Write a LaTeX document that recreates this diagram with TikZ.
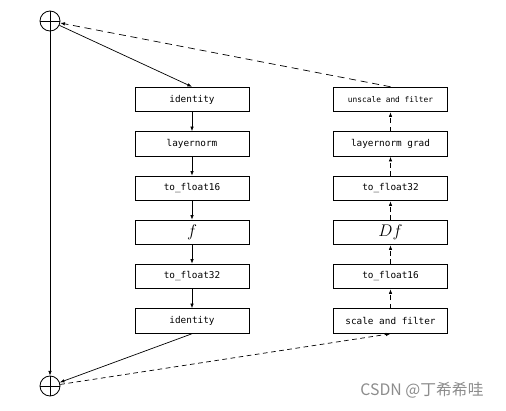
\documentclass[tikz,border=0pt]{standalone}
\usepackage{fontspec}
\setmonofont{DejaVu Sans Mono}
\newfontfamily\cjkfont{Noto Sans CJK SC}
\usepackage{tikz}
\usetikzlibrary{positioning}
\usetikzlibrary{arrows.meta,calc}
\tikzstyle{block}=[rectangle,draw,line width=0.7pt,minimum width=3.42cm,minimum height=0.74cm,inner sep=0pt,font=\ttfamily\fontsize{8}{9}\selectfont]
\tikzstyle{plusnode}=[circle,draw,line width=0.7pt,minimum size=0.6cm,inner sep=0pt,path picture={\draw[line width=0.7pt] (path picture bounding box.north) -- (path picture bounding box.south) (path picture bounding box.west) -- (path picture bounding box.east);}]
\tikzstyle{edge} = [draw,line width=0.6pt,->]
\tikzstyle{backedge} = [draw,line width=0.6pt,->,dash pattern=on 4pt off 3pt]

\begin{document}
\begin{tikzpicture}[x=0.03cm,y=-0.03cm,>={Latex[length=4pt,width=3pt]}]

  \useasboundingbox (0,0) rectangle (506,410);

  \def\xl{192};
  \def\xr{390.5};

   \node[plusnode] (top) at (50,21) {};
   \node[plusnode] (bot) at (50,386) {};

   \foreach \y/\name/\label in {99.5/id1/identity, 144/ln/layernorm, 188.5/f16/to\_float16, 232.5/fwd/{\rmfamily\Large$f$}, 276.5/f32/to\_float32, 321/id2/identity}
          \node[block] (\name) at (\xl, \y) {\label};

   \foreach \y/\name/\label in {99.5/us/{\fontsize{6.7}{8}\selectfont unscale and filter}, 144/lng/layernorm grad, 188.5/g32/to\_float32, 232.5/df/{\rmfamily\Large$Df$}, 276.5/g16/to\_float16, 321/sc/scale and filter}
          \node[block] (\name) at (\xr, \y) {\label};

  \foreach \source/ \dest in {top/id1.north, id1/ln, ln/f16, f16/fwd, fwd/f32, f32/id2, id2.south/bot, top/bot}
         \path[edge] (\source) -- (\dest);

  \foreach \source/ \dest in {bot/sc.south, sc/g16, g16/df, df/g32, g32/lng, lng/us}
         \path[backedge] (\source) -- (\dest);

  \path[backedge, dash pattern=on 6pt off 4pt] (us.north) -- (top);

  \node[text=black!45,font=\cjkfont\fontsize{13.5}{15}\selectfont] (mark) at (422,390) {CSDN @丁希希哇};

\end{tikzpicture}
\end{document}
